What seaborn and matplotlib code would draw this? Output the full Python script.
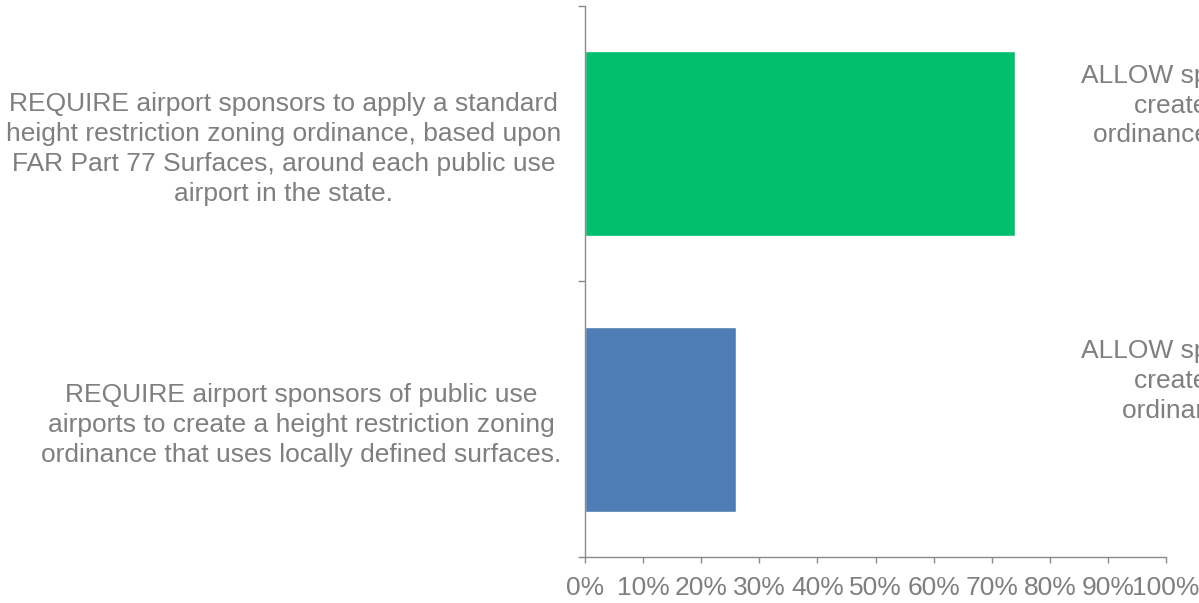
import pandas as pd
import seaborn as sns
import matplotlib.pyplot as plt

# left side options (REQUIRE) and the opposite choice shown on the right (ALLOW)
options = [
    'REQUIRE airport sponsors to apply a standard\nheight restriction zoning ordinance, based upon\nFAR Part 77 Surfaces, around each public use\nairport in the state.',
    'REQUIRE airport sponsors of public use\nairports to create a height restriction zoning\nordinance that uses locally defined surfaces.',
]
allow_labels = [
    'ALLOW sponsors of public use airports to\ncreate a height restriction zoning\nordinance, based upon the FAR Part 77\nSurfaces.',
    'ALLOW sponsors of public use airports to\ncreate a height restriction zoning\nordinance that uses locally defined\nsurfaces.',
]
shares = [74, 26]
bar_colors = ['#00C06E', '#4E7CB5']
x_ticks = [0, 10, 20, 30, 40, 50, 60, 70, 80, 90, 100]

gray_text = '#7F7F7F'
gray_line = '#8A8A8A'

sns.set_theme(style='white')
plt.rcParams['font.family'] = ['Liberation Sans', 'DejaVu Sans']

fig = plt.figure(figsize=(11.99, 6.03), dpi=100)
ax = fig.add_axes([0.488, 0.0763, 0.4845, 0.914])

df = pd.DataFrame({'option': options, 'share': shares})
sns.barplot(data=df, x='share', y='option', hue='option', palette=bar_colors,
            saturation=1, width=0.67, legend=False, ax=ax)

ax.set_xlim(0, 100)
ax.set_ylim(1.5, -0.5)
ax.set_xlabel('')
ax.set_ylabel('')

ax.set_xticks(x_ticks)
ax.set_xticklabels([f'{t}%' for t in x_ticks])
ax.set_yticks(range(len(options)))
labs = ax.set_yticklabels(options)
for lab in labs:
    lab.set_multialignment('center')
    lab.set_linespacing(1.31)

# category boundary ticks on the y axis
ax.set_yticks([-0.5, 0.5, 1.5], minor=True)
ax.tick_params(axis='y', which='minor', left=True, length=5, width=1, color=gray_line)
ax.tick_params(axis='y', which='major', left=False, length=0, pad=17,
               labelsize=19, labelcolor=gray_text)
ax.tick_params(axis='x', which='major', bottom=True, length=4.5, width=1, color=gray_line,
               pad=9, labelsize=19, labelcolor=gray_text)

for side in ['top', 'right']:
    ax.spines[side].set_visible(False)
for side in ['left', 'bottom']:
    ax.spines[side].set_color(gray_line)
    ax.spines[side].set_linewidth(1)

# opposite option text on the right, partly outside the figure (as in the original)
for i, txt in enumerate(allow_labels):
    ax.text(127.3, i - 0.29, txt, ha='center', va='top', multialignment='center',
            fontsize=19, color=gray_text, linespacing=1.31, clip_on=False)

fig.savefig('out.png', dpi=100)
